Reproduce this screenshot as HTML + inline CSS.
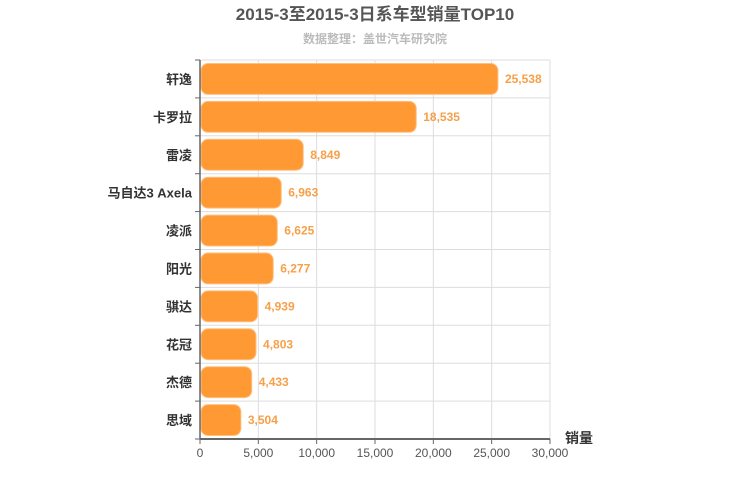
<!DOCTYPE html>
<html><head><meta charset="utf-8"><style>
body{margin:0;background:#fff;}
svg{display:block;font-family:"Liberation Sans","Noto Sans CJK SC",sans-serif;}
</style></head><body>
<svg id="chart" width="750" height="500">
<text x="375" y="20" text-anchor="middle" font-size="17" font-weight="bold" fill="#555">2015-3至2015-3日系车型销量TOP10</text>
<text x="375" y="43" text-anchor="middle" font-size="12" font-weight="bold" fill="#bbb">数据整理：盖世汽车研究院</text>
<g id="grid"></g><g id="bars"></g><g id="axes"></g>
</svg>
<script>
const categories=["轩逸","卡罗拉","雷凌","马自达3 Axela","凌派","阳光","骐达","花冠","杰德","思域"];
const values=[25538,18535,8849,6963,6625,6277,4939,4803,4433,3504];
const xTicks=[0,5000,10000,15000,20000,25000,30000];
const NS="http://www.w3.org/2000/svg";
const X0=200,X1=550,Y0=60,Y1=439,XMAX=30000;
const rowH=(Y1-Y0)/categories.length;
const xs=v=>X0+(X1-X0)*v/XMAX;
const ys=i=>Y0+i*rowH;
function mk(tag,attrs,parent,text){const e=document.createElementNS(NS,tag);for(const k in attrs)e.setAttribute(k,attrs[k]);if(text!==undefined)e.textContent=text;document.getElementById(parent).appendChild(e);return e;}
xTicks.forEach(t=>{
  const g=mk('line',{x1:xs(t),x2:xs(t),y1:Y0,y2:Y1,stroke:'#ddd','stroke-width':1},'grid');
  
  
  const tk=mk('line',{x1:xs(t),x2:xs(t),y1:Y1,y2:Y1+5,stroke:'#666'},'axes');
  
  
  const lb=mk('text',{x:xs(t),y:Y1+18,'text-anchor':'middle','font-size':12,fill:'#555'},'axes',t.toLocaleString('en-US'));
  
  
});
for(let i=0;i<=categories.length;i++){
  const g=mk('line',{x1:X0,x2:X1,y1:ys(i),y2:ys(i),stroke:'#ddd'},'grid');
  
  
  const tk=mk('line',{x1:X0-5,x2:X0,y1:ys(i),y2:ys(i),stroke:'#666'},'axes');
  
  
}
categories.forEach((c,i)=>{
  const y=ys(i)+3.5,h=rowH-7;
  const b=mk('rect',{x:X0+1,y:y,width:Math.max(0,xs(values[i])-X0-1),height:h,rx:7,ry:7,fill:'#ff9933',stroke:'#ffc080','stroke-width':1},'bars');
  
  
  const v=mk('text',{x:xs(values[i])+7,y:ys(i)+rowH/2+4,'font-size':12,'font-weight':'bold',fill:'#f6a04a'},'bars',values[i].toLocaleString('en-US'));
  
  
  const l=mk('text',{x:X0-8,y:ys(i)+rowH/2+5,'text-anchor':'end','font-size':13,'font-weight':'bold',fill:'#333'},'axes',c);
  
  
});
const ax=mk('line',{x1:X0,x2:X1,y1:Y1,y2:Y1,stroke:'#666','stroke-width':2},'axes');


const ay=mk('line',{x1:X0,x2:X0,y1:Y0,y2:Y1,stroke:'#666','stroke-width':1.5},'axes');


const at=mk('text',{x:565,y:443,'font-size':14,'font-weight':'bold',fill:'#333'},'axes','销量');


</script>
</body></html>
